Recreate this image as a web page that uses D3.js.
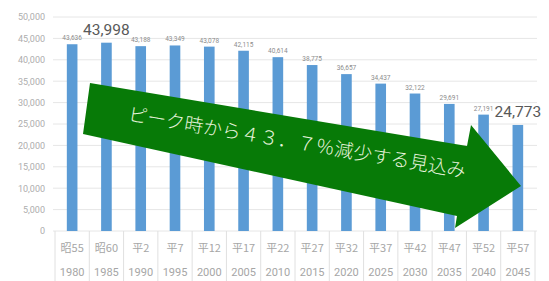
<!DOCTYPE html>
<html><head><meta charset="utf-8">
<script src="https://cdn.jsdelivr.net/npm/d3@7/dist/d3.min.js"></script>
<style>
html,body{margin:0;padding:0;background:#fff;}
svg{display:block;}
</style></head>
<body>
<svg id="chart" width="549" height="281"></svg>
<script>
const eraLabels = ["昭55","昭60","平2","平7","平12","平17","平22","平27","平32","平37","平42","平47","平52","平57"];
const years = ["1980","1985","1990","1995","2000","2005","2010","2015","2020","2025","2030","2035","2040","2045"];
const population = [43636,43998,43188,43349,43078,42115,40614,38775,36657,34437,32122,29691,27191,24773];
const yTicks = [0,5000,10000,15000,20000,25000,30000,35000,40000,45000,50000];
const highlightYears = ["1985","2045"];
const arrowText = "ピーク時から４３．７％減少する見込み";

const svg = d3.select("#chart");
const W = 549, H = 281;
const margin = {left:55, right:14, top:17, bottom:50};
const x = d3.scaleBand().domain(years).range([margin.left, W - margin.right]).paddingInner(0.69).paddingOuter(0.345);
const y = d3.scaleLinear().domain([0,50000]).range([H - margin.bottom, margin.top]);

// gridlines
svg.append("g").selectAll("line").data(yTicks).join("line")
  .attr("x1", margin.left - 2).attr("x2", W - margin.right + 2)
  .attr("y1", d => y(d)).attr("y2", d => y(d))
  .attr("stroke", "#e6e6e6").attr("stroke-width", 1);

// y axis labels
const yAxis = d3.axisLeft(y).tickValues(yTicks).tickFormat(d3.format(",")).tickSize(0).tickPadding(10);
const gy = svg.append("g").attr("transform", `translate(${margin.left},0)`).call(yAxis);
gy.select(".domain").remove();
gy.selectAll("text").attr("fill", "#adadad").style("font-family", "Roboto, sans-serif").style("font-size", "9px");

// table-style x axis
const step = x.step();
const bounds = years.map(d => x(d) - (step - x.bandwidth())/2);
bounds.push(W - margin.right);
svg.append("g").selectAll("line").data(bounds).join("line")
  .attr("x1", d => d).attr("x2", d => d)
  .attr("y1", y(0)).attr("y2", H)
  .attr("stroke", "#e0e0e0").attr("stroke-width", 1);

const gx = svg.append("g");
gx.selectAll("text.era").data(years).join("text").attr("class","era")
  .attr("x", d => x(d) + x.bandwidth()/2).attr("y", y(0) + 21)
  .attr("text-anchor", "middle").attr("fill", "#a6a6a6")
  .style("font-family", "'Noto Sans CJK JP', sans-serif").style("font-size", "11px")
  .text((d,i) => eraLabels[i]);
gx.selectAll("text.yr").data(years).join("text").attr("class","yr")
  .attr("x", d => x(d) + x.bandwidth()/2).attr("y", y(0) + 45)
  .attr("text-anchor", "middle").attr("fill", "#a6a6a6")
  .style("font-family", "Roboto, sans-serif").style("font-size", "11px")
  .text(d => d);

// bars
svg.append("g").selectAll("rect").data(years).join("rect")
  .attr("x", d => x(d)).attr("width", x.bandwidth())
  .attr("y", (d,i) => y(population[i])).attr("height", (d,i) => y(0) - y(population[i]))
  .attr("fill", "#5b9bd5");

// value labels
svg.append("g").selectAll("text").data(years).join("text")
  .attr("x", d => x(d) + x.bandwidth()/2)
  .attr("y", (d,i) => y(population[i]) - (highlightYears.includes(d) ? 8 : 4))
  .attr("text-anchor", "middle")
  .attr("fill", d => highlightYears.includes(d) ? "#595959" : "#8c8c8c")
  .style("font-family", "Roboto, sans-serif")
  .style("font-size", d => highlightYears.includes(d) ? "15.5px" : "6.5px")
  .text((d,i) => d3.format(",")(population[i]));

// arrow
const arrowPts = [[90,83],[467,146],[471,125],[521,186],[455,228],[457,216],[83,134]];
svg.append("path")
  .attr("d", d3.line()(arrowPts) + "Z")
  .attr("fill", "#077a07");

svg.append("text")
  .attr("transform", "translate(296,149) rotate(9.6)")
  .attr("text-anchor", "middle")
  .attr("fill", "#e6f3dc")
  .style("font-family", "'Noto Sans CJK JP', sans-serif")
  .style("font-weight", "300")
  .style("font-size", "19px")
  .text(arrowText);
</script>
</body></html>
